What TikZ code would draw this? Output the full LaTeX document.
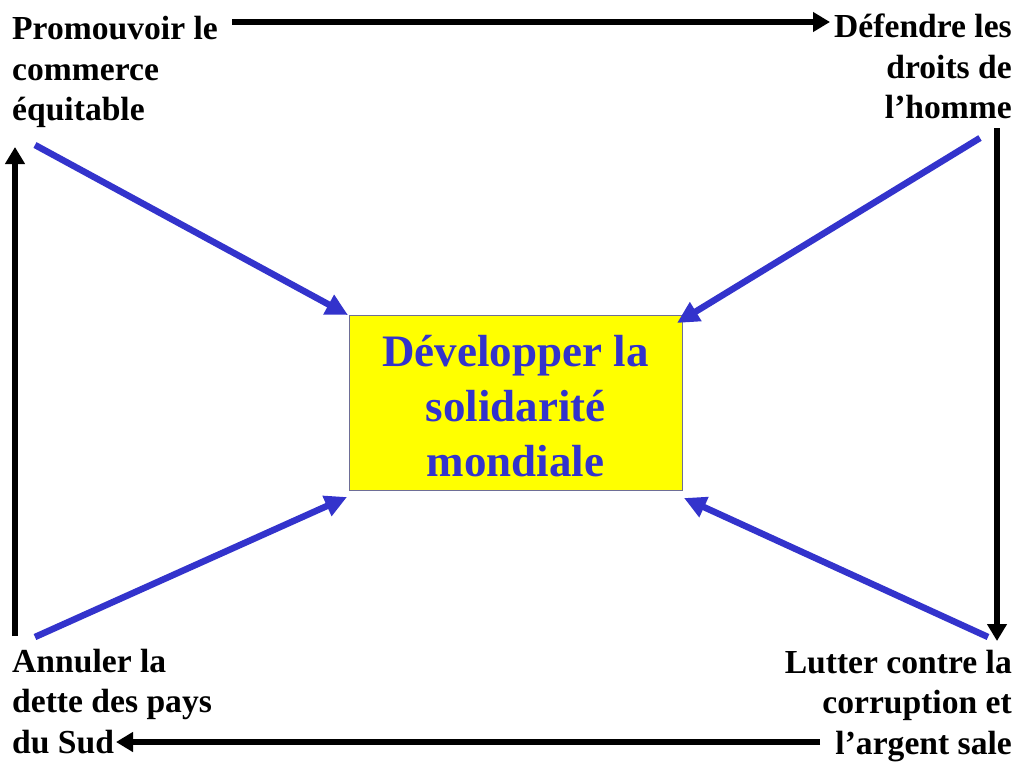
\documentclass[tikz,border=0pt]{standalone}
\usepackage{fontspec}
\setmainfont{Liberation Serif}
\usetikzlibrary{arrows.meta}
\definecolor{arrowblue}{RGB}{51,51,204}
\definecolor{boxyellow}{RGB}{255,255,0}
\definecolor{boxline}{RGB}{110,110,150}
\begin{document}
\begin{tikzpicture}[x=1pt,y=-1pt,
  lbl/.style={font=\fontsize{33.6}{40.5}\selectfont\bfseries, inner sep=0pt, text=black},
  blk/.style={draw=black, line width=6.5pt, -{Triangle[length=17pt,width=19pt]}},
  blu/.style={draw=arrowblue, line width=6.5pt, -{Triangle[length=22pt,width=21pt]}},
  mainbox/.style={draw=boxline, line width=1pt, fill=boxyellow, minimum width=333pt, minimum height=175pt, inner sep=0pt, align=center, text=arrowblue, font=\fontsize{45}{55}\selectfont\bfseries}
]
\useasboundingbox (0,0) rectangle (1024,768);
\fill[white] (0,0) rectangle (1024,768);

\node[lbl, anchor=north west, align=left] (tl) at (12,16) {Promouvoir le\\commerce\\équitable};
\node[lbl, anchor=north east, align=right] (tr) at (1012,14) {Défendre les\\droits de\\l’homme};
\node[lbl, anchor=south west, align=left] (bl) at (12,754) {Annuler la\\dette des pays\\du Sud};
\node[lbl, anchor=south east, align=right] (br) at (1012,762) {Lutter contre la\\corruption et\\l’argent sale};

\node[mainbox] (box) at (515.5,402.5) {};
\node[align=center, text=arrowblue, font=\fontsize{45}{55}\selectfont\bfseries, inner sep=0pt] (boxtext) at (515.5,406) {Développer la\\solidarité\\mondiale};

% cycle arrows
\coordinate (t1) at (232,22);  \coordinate (t2) at (830,22);
\coordinate (r1) at (997,128); \coordinate (r2) at (997,641);
\coordinate (b1) at (820,742); \coordinate (b2) at (116,742);
\coordinate (l1) at (15,636);  \coordinate (l2) at (15,147);
\draw[blk] (t1) -- (t2);
\draw[blk] (r1) -- (r2);
\draw[blk] (b1) -- (b2);
\draw[blk] (l1) -- (l2);

% blue arrows to the centre box
\coordinate (s1) at (35,145);  \coordinate (e1) at (348,315);
\coordinate (s2) at (980,138); \coordinate (e2) at (677,323);
\coordinate (s3) at (35,637);  \coordinate (e3) at (347,497);
\coordinate (s4) at (988,637); \coordinate (e4) at (684,498);
\draw[blu] (s1) -- (e1);
\draw[blu] (s2) -- (e2);
\draw[blu] (s3) -- (e3);
\draw[blu] (s4) -- (e4);
\end{tikzpicture}
\end{document}
